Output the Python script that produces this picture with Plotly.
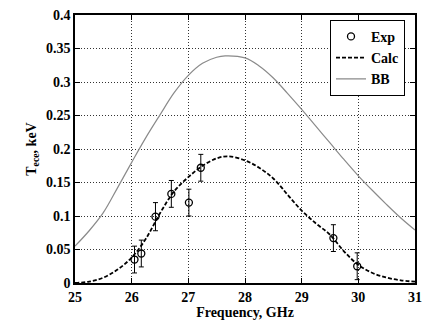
import plotly.graph_objects as go

# Experimental points
exp_freq = [26.05, 26.17, 26.42, 26.70, 27.01, 27.22, 29.56, 29.98]
exp_t = [0.035, 0.044, 0.099, 0.133, 0.120, 0.172, 0.067, 0.025]
exp_err = [0.020, 0.020, 0.021, 0.020, 0.020, 0.020, 0.020, 0.020]

# Calc curve
calc_freq = [25.0, 25.25, 25.5, 25.75, 26.0, 26.25, 26.5, 26.75, 27.0, 27.25, 27.5, 27.7,
             28.0, 28.25, 28.5, 28.75, 29.0, 29.25, 29.5, 29.75, 30.0, 30.25, 30.5, 30.75, 31.0]
calc_t = [0.0, 0.002, 0.008, 0.020, 0.038, 0.066, 0.104, 0.137, 0.158, 0.175, 0.186, 0.189,
          0.183, 0.172, 0.156, 0.132, 0.108, 0.089, 0.072, 0.047, 0.027, 0.015, 0.008, 0.004, 0.002]

# BB curve
bb_freq = [25.0, 25.25, 25.5, 25.75, 26.0, 26.25, 26.5, 26.75, 27.0, 27.25, 27.5, 27.65,
           28.0, 28.25, 28.5, 28.75, 29.0, 29.25, 29.5, 29.75, 30.0, 30.25, 30.5, 30.75, 31.0]
bb_t = [0.055, 0.078, 0.105, 0.142, 0.180, 0.217, 0.251, 0.284, 0.310, 0.328, 0.337, 0.339,
        0.336, 0.324, 0.306, 0.283, 0.259, 0.234, 0.209, 0.184, 0.160, 0.138, 0.117, 0.097, 0.079]

font = dict(family="Liberation Serif", size=14, color="black", weight=700)

fig = go.Figure()
fig.add_trace(go.Scatter(
    x=exp_freq, y=exp_t, mode="markers", name="Exp",
    marker=dict(symbol="circle-open", size=7, color="black", line=dict(width=1.3)),
    error_y=dict(type="data", array=exp_err, visible=True, color="black", thickness=1, width=2.5),
))
fig.add_trace(go.Scatter(
    x=calc_freq, y=calc_t, mode="lines", name="Calc",
    line=dict(color="black", width=1.8, dash="4px,2px", shape="spline"),
))
fig.add_trace(go.Scatter(
    x=bb_freq, y=bb_t, mode="lines", name="BB",
    line=dict(color="#8a8a8a", width=1.2, shape="spline"),
))

axis_common = dict(
    showline=True, linecolor="black", linewidth=1.5, mirror="ticks",
    ticks="inside", ticklen=5, tickcolor="black", tickwidth=1.2,
    showgrid=True, gridcolor="#333333", griddash="1px,2px", gridwidth=1,
    zeroline=False, tickfont=font,
)

fig.update_layout(
    width=430, height=322,
    margin=dict(l=75, r=8, t=14, b=35),
    paper_bgcolor="white", plot_bgcolor="white",
    font=font,
    showlegend=True,
    legend=dict(
        x=0.75, y=0.982, xanchor="left", yanchor="top",
        bgcolor="white", bordercolor="black", borderwidth=1,
        font=font, tracegroupgap=0, itemwidth=30,
    ),
    xaxis=dict(
        range=[25, 31], tickvals=[25, 26, 27, 28, 29, 30, 31],
        title=dict(text="Frequency, GHz", font=font, standoff=0),
        **axis_common,
    ),
    yaxis=dict(
        range=[0, 0.4], tickvals=[0, 0.05, 0.1, 0.15, 0.2, 0.25, 0.3, 0.35, 0.4],
        ticktext=["0", "0.05", "0.1", "0.15", "0.2", "0.25", "0.3", "0.35", "0.4"],
        title=dict(text="T<sub>ece</sub>, keV", font=font, standoff=6),
        **axis_common,
    ),
)

fig.write_html("out.html")
